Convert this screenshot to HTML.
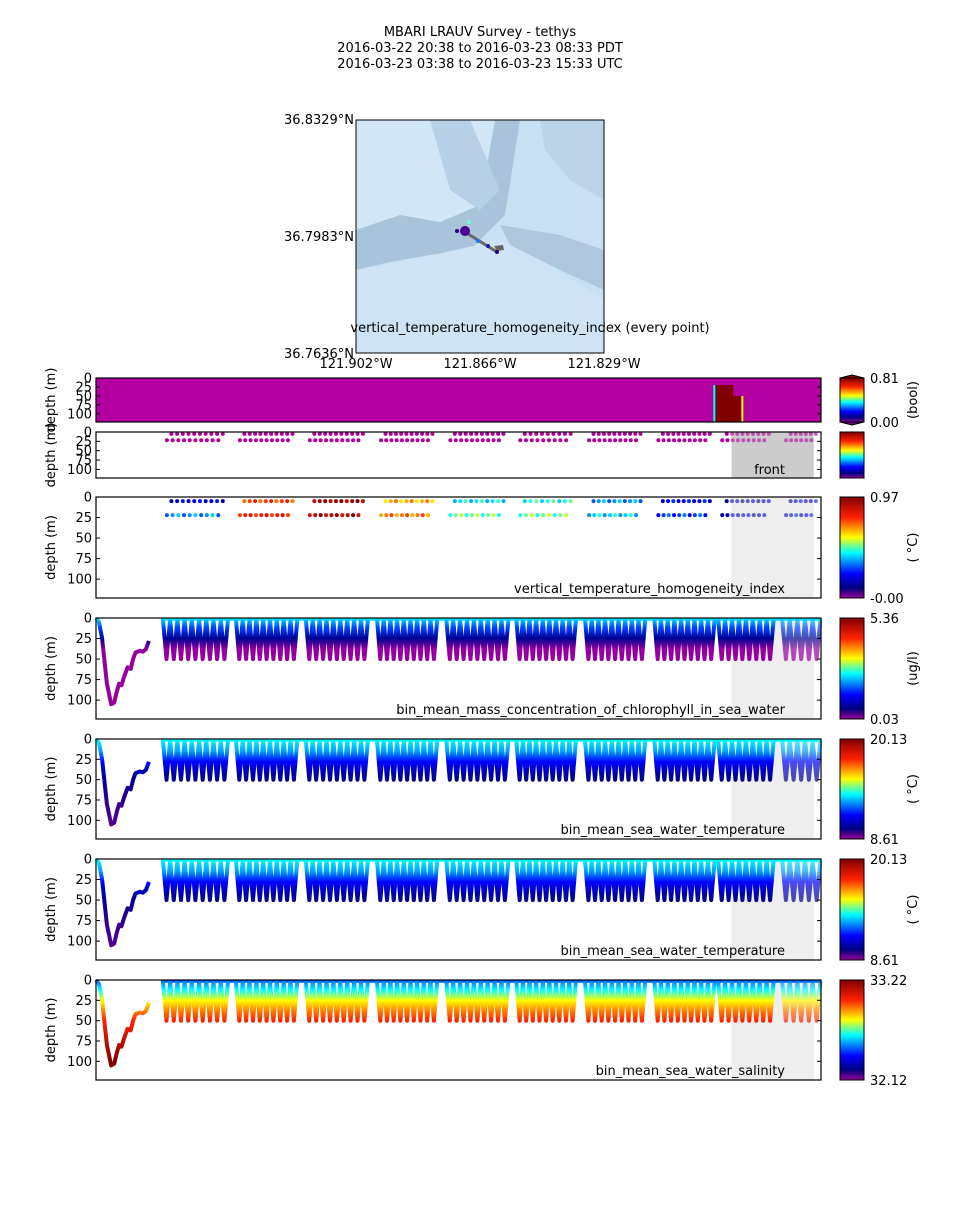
<!DOCTYPE html>
<html><head><meta charset="utf-8">
<style>
body{margin:0;background:#fff;}
svg text{font-family:"DejaVu Sans","Liberation Sans",sans-serif;fill:#000;}
</style></head>
<body>
<svg id="fig" xmlns="http://www.w3.org/2000/svg" width="960" height="1200" viewBox="0 0 960 1200">
<defs>
<linearGradient id="jetV" x1="0" y1="1" x2="0" y2="0">
<stop offset="0" stop-color="#9a009a"/><stop offset="0.1" stop-color="#000080"/><stop offset="0.24" stop-color="#0000ff"/>
<stop offset="0.45" stop-color="#00ffff"/><stop offset="0.6" stop-color="#ffff00"/><stop offset="0.8" stop-color="#ff2000"/><stop offset="1" stop-color="#800000"/>
</linearGradient>
</defs>
<g font-size="13" text-anchor="middle">
<text x="480" y="36">MBARI LRAUV Survey - tethys</text>
<text x="480" y="52">2016-03-22 20:38  to  2016-03-23 08:33 PDT</text>
<text x="480" y="68">2016-03-23 03:38  to  2016-03-23 15:33 UTC</text>
</g>
<g id="map">
<rect x="356" y="120" width="248" height="233" fill="#c9e0f3"/>
<polygon points="356,120 500,120 480,205 440,225 400,220 356,230" fill="#d3e6f6"/>
<polygon points="356,230 400,215 440,222 480,205 495,120 520,120 505,215 470,250 430,255 390,262 356,270" fill="#a9c3da"/>
<polygon points="430,120 470,120 500,190 480,210 450,190" fill="#b8d0e6"/>
<polygon points="500,225 560,235 604,250 604,290 560,270 510,245" fill="#aec7dd"/>
<polygon points="356,270 420,258 500,240 540,260 604,300 604,353 356,353" fill="#d0e3f4"/>
<polygon points="540,120 604,120 604,200 570,180 545,150" fill="#bcd3e8"/>
<rect x="356" y="120" width="248" height="233" fill="none" stroke="#000" stroke-width="1"/>
<line x1="465" y1="232" x2="497" y2="252" stroke="#666" stroke-width="3"/>
<polygon points="494,246 503,245 504,250 497,251" fill="#666"/>
<circle cx="465" cy="231" r="5" fill="#4b0090"/>
<circle cx="457" cy="231" r="2" fill="#220088"/>
<circle cx="469" cy="222" r="2" fill="#66ffcc"/>
<circle cx="478" cy="241" r="2" fill="#1e6fff"/>
<circle cx="488" cy="246" r="2" fill="#1010aa"/>
<circle cx="497" cy="252" r="2" fill="#220088"/>
<text x="530" y="332" font-size="13" text-anchor="middle">vertical_temperature_homogeneity_index (every point)</text>
<g font-size="13">
<text x="354" y="124" text-anchor="end">36.8329°N</text>
<text x="354" y="241" text-anchor="end">36.7983°N</text>
<text x="354" y="358" text-anchor="end">36.7636°N</text>
<text x="356" y="368" text-anchor="middle">121.902°W</text>
<text x="480" y="368" text-anchor="middle">121.866°W</text>
<text x="604" y="368" text-anchor="middle">121.829°W</text>
</g>
</g>
<g id="panels"></g>
</svg>
<script>
// ---- data ----
const tMax = 11.92; // hours of survey
const maxDepth = 123;
const groupStart = [1.10, 2.30, 3.45, 4.62, 5.76, 6.91, 8.04, 9.18, 10.23, 11.28];
const groupEnd   = [2.17, 3.31, 4.47, 5.61, 6.78, 7.89, 9.03, 10.17, 11.14, 11.91];
const groupYoyos = [9, 9, 9, 9, 9, 9, 9, 9, 8, 5];
const yoyoBottom = 50;
const firstTimes  = [0, 0.05, 0.1, 0.18, 0.25, 0.3, 0.34, 0.38, 0.42, 0.46, 0.52, 0.57, 0.61, 0.65, 0.72, 0.77, 0.82, 0.87];
const firstDepths = [0, 5, 25, 80, 105, 103, 90, 80, 82, 72, 60, 62, 50, 42, 40, 41, 38, 28];
const vtiUpper = [0.2, 0.75, 0.93, 0.65, 0.42, 0.45, 0.35, 0.22, 0.15, 0.2];
const vtiLower = [0.35, 0.8, 0.9, 0.7, 0.5, 0.5, 0.4, 0.28, 0.18, 0.22];
const shadeStart = 10.45, shadeEnd = 11.8;
const depthTicks = [0, 25, 50, 75, 100];
const chlColors = [[0,"#00e5ff"],[12,"#0040ff"],[25,"#000090"],[38,"#9400a0"],[123,"#9a009a"]];
const tmpColors = [[0,"#00ffff"],[15,"#00a0ff"],[28,"#0000ff"],[48,"#000090"],[100,"#500090"],[123,"#500090"]];
const salColors = [[0,"#0060ff"],[12,"#00ffff"],[25,"#ffff00"],[38,"#ff8000"],[50,"#ff2000"],[100,"#800000"],[123,"#800000"]];

const NS="http://www.w3.org/2000/svg";
const X0=96, X1=821;
const xs=t=>X0+(t/tMax)*(X1-X0);
function el(tag,attrs,parent){const e=document.createElementNS(NS,tag);for(const k in attrs)e.setAttribute(k,attrs[k]);parent.appendChild(e);return e;}
const root=document.getElementById('panels');

function axes(y0,h,name,label){
  const g=el('g',{},root);
  
  
  const ys=d=>y0+d/maxDepth*h;
  depthTicks.forEach(d=>{
    const yy=ys(d);
    el('line',{x1:X0,x2:X0+4,y1:yy,y2:yy,stroke:'#000'},g);
    el('line',{x1:X1-4,x2:X1,y1:yy,y2:yy,stroke:'#000'},g);
    const t=el('text',{x:X0-4,y:yy+4.5,'font-size':13,'text-anchor':'end'},g);t.textContent=d;
  });
  const yl=el('text',{x:55,y:y0+h/2,'font-size':13,'text-anchor':'middle',transform:`rotate(-90 55 ${y0+h/2})`},g);
  yl.textContent='depth (m)';
  if(label){const t=el('text',{x:X1-36,y:y0+h-5,'font-size':13,'text-anchor':'end'},g);t.textContent=label;}
  return {g,ys};
}
function frame(y0,h){el('rect',{x:X0,y:y0,width:X1-X0,height:h,fill:'none',stroke:'#000','stroke-width':1.2},root);}
function colorbar(y0,h,top,bot,unit,name,arrows){
  const g=el('g',{},root);
  
  
  if(arrows){el('polygon',{points:`840,${y0} 852,${y0-3} 864,${y0} 864,${y0+h} 852,${y0+h+3} 840,${y0+h}`,fill:'url(#jetV)',stroke:'#000'},g);}
  el('rect',{x:840,y:y0,width:24,height:h,fill:'url(#jetV)',stroke:'#000','stroke-width':1},g);
  if(top!==null){const a=el('text',{x:870,y:y0+5,'font-size':13},g);a.textContent=top;
  const b=el('text',{x:870,y:y0+h+5,'font-size':13},g);b.textContent=bot;}
  if(unit){const u=el('text',{x:917,y:y0+h/2,'font-size':13,'text-anchor':'middle',transform:`rotate(-90 917 ${y0+h/2})`},g);u.textContent=unit;}
}
function gradient(id,stops,y0,h){
  let defs=document.querySelector('defs');
  const lg=el('linearGradient',{id,x1:0,y1:y0,x2:0,y2:y0+h,gradientUnits:'userSpaceOnUse'},defs);
  stops.forEach(s=>el('stop',{offset:s[0]/maxDepth,'stop-color':s[1]},lg));
}
function shade(y0,h,col){el('rect',{x:xs(shadeStart),y:y0,width:xs(shadeEnd)-xs(shadeStart),height:h,fill:col},root);}

(function(){
  const y0=378,h=44;
  const {g}=axes(y0,h,'front-image-panel',null);
  el('rect',{x:X0,y:y0,width:X1-X0,height:h,fill:'#b400a0'},root);
  const fx=xs(10.15);
  el('rect',{x:fx,y:y0+7,width:6,height:h-7,fill:'#00ffff'},root);
  el('rect',{x:fx+2,y:y0+7,width:18,height:h-7,fill:'#800000'},root);
  el('rect',{x:fx+18,y:y0+18,width:12,height:h-18,fill:'#800000'},root);
  el('rect',{x:fx+28,y:y0+18,width:2,height:h-18,fill:'#ffff00'},root);
  frame(y0,h);
  root.appendChild(g);
  colorbar(y0,h,'0.81','0.00','(bool)','front-colorbar',true);
})();

function scatterRows(ys,colorFn){
  groupStart.forEach((s,i)=>{
    const e=groupEnd[i];
    const n=Math.round((xs(e)-xs(s))/6.3);
    [[5,2.5],[22,-2]].forEach(([d,off],r)=>{
      for(let k=0;k<n;k++){
        const x=xs(s)+off+6+k*(xs(e)-xs(s)-8)/n;
        const inShade=x>xs(shadeStart);
        const c=el('circle',{cx:x,cy:ys(d),r:2,fill:colorFn(i,r,k),opacity:inShade?0.6:1},root);
        
        
      }
    });
  });
}
function jet(v){
  const st=[[0,[154,0,154]],[0.1,[0,0,128]],[0.24,[0,0,255]],[0.45,[0,255,255]],[0.6,[255,255,0]],[0.8,[255,32,0]],[1,[128,0,0]]];
  v=Math.max(0,Math.min(1,v));
  for(let i=1;i<st.length;i++){if(v<=st[i][0]){const a=st[i-1],b=st[i],f=(v-a[0])/(b[0]-a[0]);
  return `rgb(${a[1].map((c,j)=>Math.round(c+(b[1][j]-c)*f)).join(',')})`;}}
  return 'rgb(128,0,0)';
}
(function(){
  const y0=432,h=46;
  shade(y0,h,'#cccccc');
  const {g,ys}=axes(y0,h,'front-scatter-panel',null);
  scatterRows(ys,()=> '#b400a0');
  const t=el('text',{x:785,y:y0+h-4,'font-size':13,'text-anchor':'end'},root);t.textContent='front';
  frame(y0,h);
  colorbar(y0,h,null,null,null,'front-scatter-colorbar',false);
})();
(function(){
  const y0=497,h=101;
  shade(y0,h,'#eeeeee');
  const {g,ys}=axes(y0,h,'vti-panel','vertical_temperature_homogeneity_index');
  scatterRows(ys,(i,r,k)=>jet(((r?vtiLower[i]:vtiUpper[i])+((k%3)-1)*0.05)/0.97));
  frame(y0,h);
  colorbar(y0,h,'0.97','-0.00','( °C)','vti-colorbar',false);
})();
function profile(y0,h,label,stops,top,bot,unit,id){
  shade(y0,h,'#eeeeee');
  const {g,ys}=axes(y0,h,id+'-panel',label);
  gradient(id+'-grad',stops,y0,h);
  let d='M'+firstTimes.map((t,i)=>xs(t).toFixed(1)+','+ys(firstDepths[i]).toFixed(1)).join(' L');
  const p=el('path',{d,fill:'none',stroke:`url(#${id}-grad)`,'stroke-width':4,'stroke-linejoin':'round'},root);
  
  
  const sl=el('line',{x1:xs(firstTimes[firstTimes.length-1]+0.2),x2:xs(tMax),y1:ys(1.5),y2:ys(1.5),stroke:stops[0][1],'stroke-width':3},root);
  
  groupStart.forEach((s,i)=>{
    const e=groupEnd[i],n=groupYoyos[i],w=(e-s)/n;
    let pts=[[s,1]];
    for(let k=0;k<n;k++){pts.push([s+w*(k+0.5),yoyoBottom]);pts.push([s+w*(k+1),2]);}
    const path=el('path',{d:'M'+pts.map(q=>xs(q[0]).toFixed(1)+','+ys(q[1]).toFixed(1)).join(' L'),fill:'none',stroke:`url(#${id}-grad)`,'stroke-width':4,'stroke-linejoin':'round',opacity:s>=shadeStart?0.7:1},root);
    
    
  });
  root.appendChild(g);
  frame(y0,h);
  colorbar(y0,h,top,bot,unit,id+'-colorbar',false);
}
profile(618,101,'bin_mean_mass_concentration_of_chlorophyll_in_sea_water',chlColors,'5.36','0.03','(ug/l)','chlorophyll');
profile(739,100,'bin_mean_sea_water_temperature',tmpColors,'20.13','8.61','( °C)','temperature');
profile(859,101,'bin_mean_sea_water_temperature',tmpColors,'20.13','8.61','( °C)','temperature2');
profile(980,100,'bin_mean_sea_water_salinity',salColors,'33.22','32.12','','salinity');
</script>
</body></html>
